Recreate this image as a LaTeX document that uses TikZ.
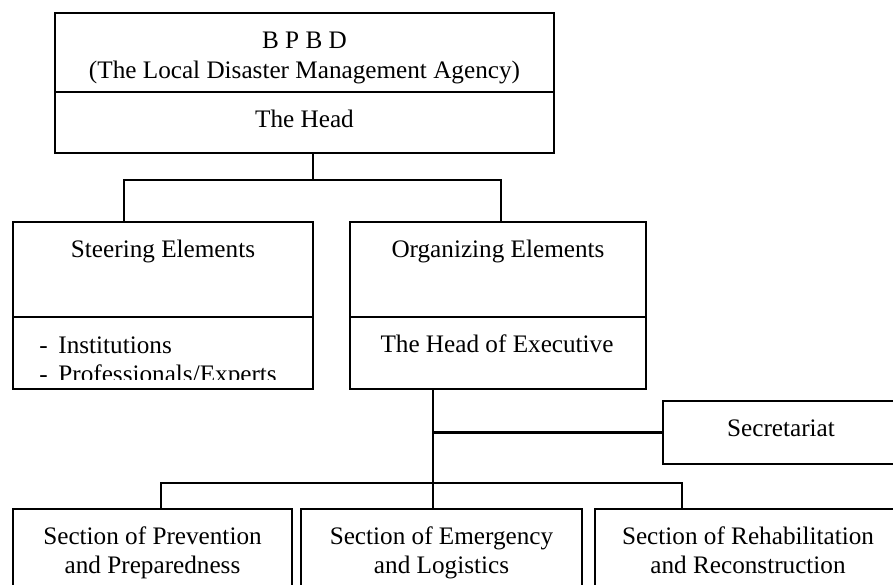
\documentclass[tikz,border=0pt]{standalone}
\usepackage{fontspec}
\setmainfont{Liberation Serif}
\begin{document}
\begin{tikzpicture}[x=0.5pt,y=-0.5pt,
  box/.style={draw, line width=1pt, inner sep=0pt, outer sep=0pt},
  conn/.style={line width=1.4pt},
  txt/.style={font=\fontsize{12.6pt}{14.5pt}\selectfont, inner sep=0pt, anchor=base},
  ltxt/.style={txt, anchor=base west}]
\useasboundingbox (0,0) rectangle (893,584);
\clip (0,0) rectangle (893,584);
% boxes
\node[box, minimum width=249.5pt, minimum height=39.5pt] (bpbd) at (304.5,52.5) {};
\node[box, minimum width=249.5pt, minimum height=30.5pt] (head) at (304.5,122.5) {};
\node[box, minimum width=150pt, minimum height=47.5pt] (steerTop) at (163,269.5) {};
\node[box, minimum width=150pt, minimum height=36pt] (steerBot) at (163,353) {};
\node[box, minimum width=148pt, minimum height=47.5pt] (orgTop) at (498,269.5) {};
\node[box, minimum width=148pt, minimum height=36pt] (orgBot) at (498,353) {};
\node[box, minimum width=118pt, minimum height=31.5pt] (secr) at (781,432.5) {};
\node[box, minimum width=139.5pt, minimum height=61pt] (sec1) at (152.5,570) {};
\node[box, minimum width=140.5pt, minimum height=61pt] (sec2) at (441.5,570) {};
\node[box, minimum width=153pt, minimum height=61pt] (sec3) at (748,570) {};
% texts
\node[txt] (t1) at (304.5,48) {B P B D};
\node[txt] (t2) at (304.5,78) {(The Local Disaster Management Agency)};
\node[txt] (t3) at (304.5,127) {The Head};
\node[txt] (t4) at (163,257) {Steering Elements};
\begin{scope}
  \clip (13,317) rectangle (313,379);
  \node[ltxt] (d1) at (39,353) {-};
  \node[ltxt] (t5) at (58,353) {Institutions};
  \node[ltxt] (d2) at (39,382) {-};
  \node[ltxt] (t6) at (58,382) {Professionals/Experts};
\end{scope}
\node[txt] (t7) at (498,257) {Organizing Elements};
\node[txt] (t8) at (497,352) {The Head of Executive};
\node[txt] (t9) at (781,436) {Secretariat};
\node[txt] (t10) at (152.5,544) {Section of Prevention};
\node[txt] (t11) at (152.5,573) {and Preparedness};
\node[txt] (t12) at (441.5,544) {Section of Emergency};
\node[txt] (t13) at (441.5,573) {and Logistics};
\node[txt] (t14) at (748,544) {Section of Rehabilitation};
\node[txt] (t15) at (748,573) {and Reconstruction};
% connector points
\coordinate (jA) at (313,180);
\coordinate (dS) at (124,0);
\coordinate (dO) at (501,0);
\coordinate (dE) at (433,0);
\coordinate (jB) at (433,483);
\coordinate (d1x) at (161,0);
\coordinate (d3x) at (682,0);
% connectors
\draw[conn] (head.south -| jA) -- (jA);
\draw[conn] (steerTop.north -| dS) |- (jA) -| (orgTop.north -| dO);
\draw[conn] (orgBot.south -| dE) -- (sec2.north -| dE);
\draw[conn] (secr.west) -- (secr.west -| dE);
\draw[conn] (sec1.north -| d1x) |- (jB) -| (sec3.north -| d3x);
\end{tikzpicture}
\end{document}
